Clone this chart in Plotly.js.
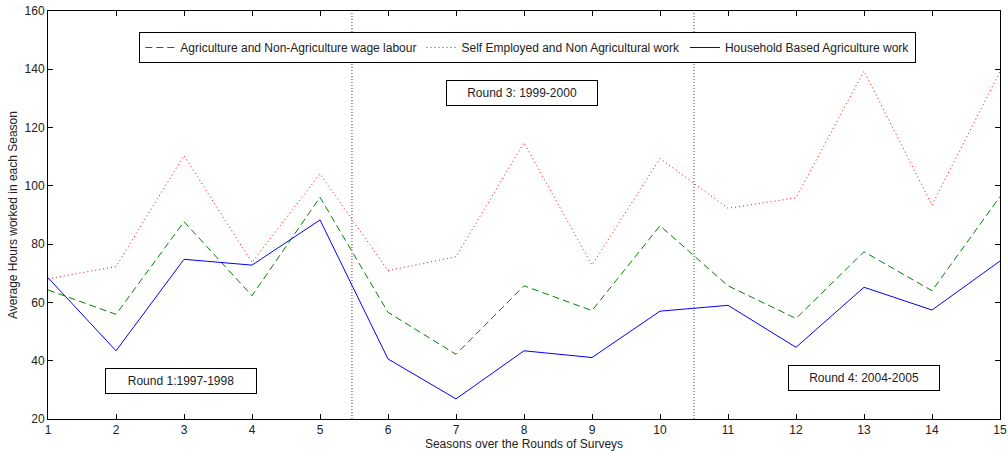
<!DOCTYPE html>
<html>
<head>
<meta charset="utf-8">
<script src="https://cdn.plot.ly/plotly-3.0.1.min.js"></script>
<style>html,body{margin:0;padding:0;background:#fff;}#chart{width:1008px;height:454px;}</style>
</head>
<body>
<div id="chart"></div>
<script>
const seasons = [1,2,3,4,5,6,7,8,9,10,11,12,13,14,15];
const wageLabour = [64.3,55.9,87.7,62.3,96.1,56.6,42.2,65.7,57.2,86.3,65.7,54.5,77.4,64.0,96.3];
const selfEmployed = [68.1,72.3,110.4,73.7,104.1,70.9,75.7,114.8,72.8,109.4,92.3,95.9,139.4,93.4,139.2];
const householdAg = [68.5,43.4,74.8,72.8,88.3,40.6,26.9,43.4,41.1,57.0,59.0,44.6,65.2,57.4,74.2];
const seriesNames = ["Agriculture and Non-Agriculture wage labour","Self Employed and Non Agricultural work","Household Based Agriculture work"];
const roundBreaks = [5.47, 10.5];
const roundLabels = ["Round 1:1997-1998","Round 3: 1999-2000","Round 4: 2004-2005"];
const roundLabelX = [2.956, 7.97, 13.0];
const roundLabelY = [33.2, 131.7, 34.2];

const font = {family: "Liberation Sans, Arial, sans-serif", size: 12, color: "#222"};

const traces = [
  {x: seasons, y: wageLabour, name: seriesNames[0], mode: "lines", line: {color: "#008000", dash: "7px,4px", width: 1}},
  {x: seasons, y: selfEmployed, name: seriesNames[1], mode: "lines", line: {color: "#ff0000", dash: "1px,3px", width: 1}},
  {x: seasons, y: householdAg, name: seriesNames[2], mode: "lines", line: {color: "#0000ff", width: 1}}
];

const shapes = roundBreaks.map(b => ({type: "line", xref: "x", yref: "paper", x0: b, x1: b, y0: 0, y1: 1, line: {color: "#444", width: 1, dash: "1px,2px"}}));

const annotations = roundLabels.map((t, i) => ({
  x: roundLabelX[i], y: roundLabelY[i], xref: "x", yref: "y", text: t, showarrow: false,
  bordercolor: "#000", borderwidth: 1, borderpad: 2, bgcolor: "#fff", width: 146, height: 20,
  font: font
}));

const layout = {
  width: 1008, height: 454,
  margin: {l: 48, r: 8, t: 11, b: 35},
  paper_bgcolor: "#fff", plot_bgcolor: "#fff",
  font: font,
  showlegend: true,
  legend: {orientation: "h", x: 0.504, xanchor: "center", y: 0.9485, yanchor: "top",
    bordercolor: "#000", borderwidth: 1, bgcolor: "#fff", font: font, itemwidth: 30, tracegroupgap: 0},
  xaxis: {range: [1, 15], tickvals: seasons, ticks: "inside", ticklen: 5, tickcolor: "#000",
    showline: true, linecolor: "#000", linewidth: 1, mirror: "ticks", showgrid: false, zeroline: false,
    title: {text: "Seasons over the Rounds of Surveys", font: font, standoff: 2}},
  yaxis: {range: [20, 160], dtick: 20, ticks: "inside", ticklen: 5, tickcolor: "#000",
    showline: true, linecolor: "#000", linewidth: 1, mirror: "ticks", showgrid: false, zeroline: false,
    title: {text: "Average Hours worked in each Season", font: font, standoff: 4}},
  shapes: shapes,
  annotations: annotations
};

Plotly.newPlot("chart", traces, layout, {staticPlot: true, displayModeBar: false});
</script>
</body>
</html>
